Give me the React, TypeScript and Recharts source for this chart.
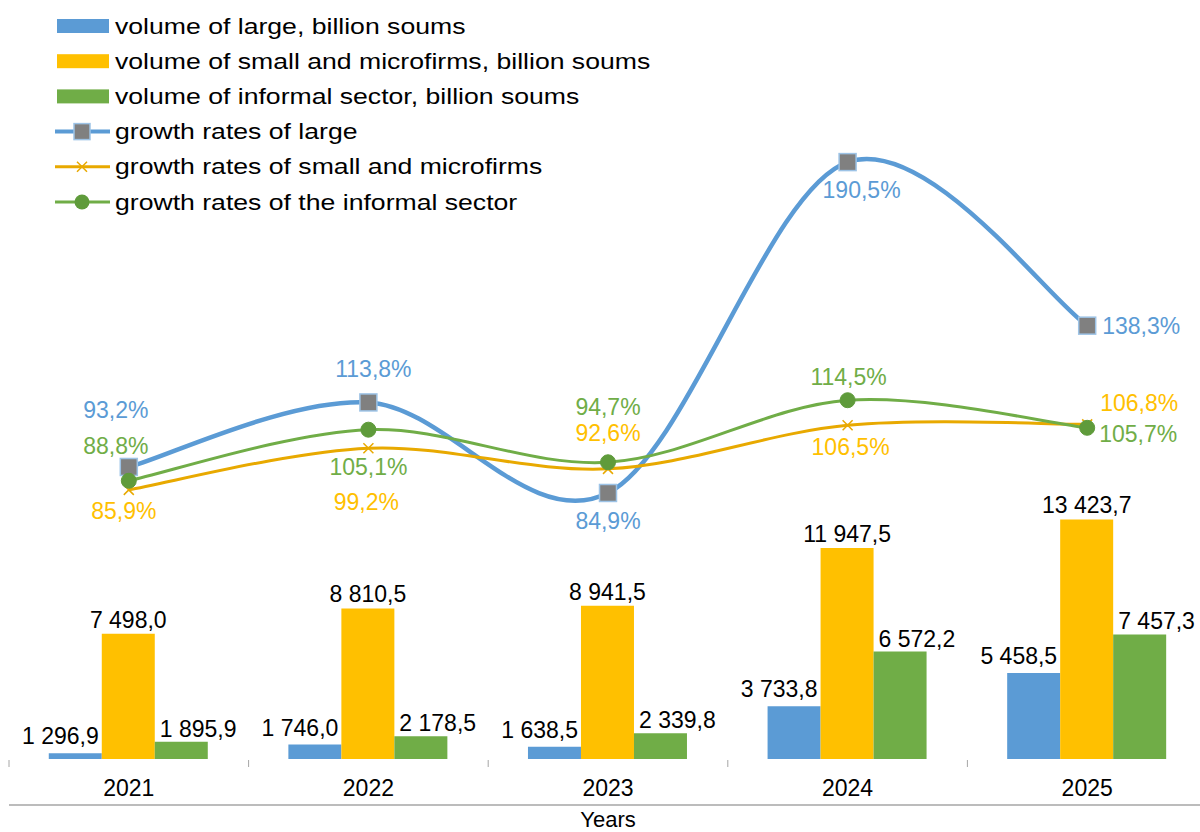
import { Bar, ComposedChart, LabelList, Line, XAxis, YAxis } from "recharts";

const years = ["2021", "2022", "2023", "2024", "2025"];
const largeVolume = [1296.9, 1746.0, 1638.5, 3733.8, 5458.5];
const smallVolume = [7498.0, 8810.5, 8941.5, 11947.5, 13423.7];
const informalVolume = [1895.9, 2178.5, 2339.8, 6572.2, 7457.3];
const largeRate = [93.2, 113.8, 84.9, 190.5, 138.3];
const smallRate = [85.9, 99.2, 92.6, 106.5, 106.8];
const informalRate = [88.8, 105.1, 94.7, 114.5, 105.7];

const data = years.map((year, i) => ({
  year,
  largeVolume: largeVolume[i],
  smallVolume: smallVolume[i],
  informalVolume: informalVolume[i],
  largeRate: largeRate[i],
  smallRate: smallRate[i],
  informalRate: informalRate[i],
}));

// label offsets from the point (text centre), picked by eye from the original
const largeRateOffsets = [[-13, -57], [5, -33], [0, 28], [14, 28], [54, 0]];
const smallRateOffsets = [[-5, 21], [-2, 54], [0, -36], [3, 22], [52, -21]];
const informalRateOffsets = [[-13, -35], [0, 37], [0, -55], [1, -23], [51, 6]];

const BLUE = "#5B9BD5";
const ORANGE = "#FFC000";
const ORANGE_LINE = "#E8A900";
const GREEN = "#70AD47";
const FONT = "'Liberation Sans', Arial, sans-serif";

const fmtVolume = (v: number) => {
  const [int, dec] = v.toFixed(1).split(".");
  return int.replace(/\B(?=(\d{3})+(?!\d))/g, " ") + "," + dec;
};
const fmtRate = (v: number) => v.toFixed(1).replace(".", ",") + "%";

// Excel-like smoothing (Catmull-Rom through the points)
const excelSmooth = (context: any) => {
  let pts: number[][] = [];
  return {
    areaStart() {},
    areaEnd() {},
    lineStart() {
      pts = [];
    },
    point(x: number, y: number) {
      pts.push([+x, +y]);
    },
    lineEnd() {
      if (!pts.length) return;
      context.moveTo(pts[0][0], pts[0][1]);
      for (let i = 0; i < pts.length - 1; i++) {
        const p0 = pts[i - 1] || pts[i];
        const p1 = pts[i];
        const p2 = pts[i + 1];
        const p3 = pts[i + 2] || p2;
        context.bezierCurveTo(
          p1[0] + (p2[0] - p0[0]) / 6,
          p1[1] + (p2[1] - p0[1]) / 6,
          p2[0] - (p3[0] - p1[0]) / 6,
          p2[1] - (p3[1] - p1[1]) / 6,
          p2[0],
          p2[1]
        );
      }
    },
  };
};

const barLabel = (anchor: "start" | "middle" | "end", gap: number) => (props: any) => {
  const { x, y, width, value } = props;
  let tx = x + width / 2;
  if (anchor === "start") tx = x + 5;
  if (anchor === "end") tx = x + width - 3;
  return (
    <text x={tx} y={y - gap} textAnchor={anchor} fontSize={23} fontFamily={FONT} fill="#000">
      {fmtVolume(value)}
    </text>
  );
};

const rateLabel = (color: string, offsets: number[][]) => (props: any) => {
  const { x, y, value, index } = props;
  const [dx, dy] = offsets[index] || [0, -20];
  return (
    <text
      x={x + dx}
      y={y + dy}
      textAnchor="middle"
      dominantBaseline="central"
      fontSize={23}
      fontFamily={FONT}
      fill={color}
    >
      {fmtRate(value)}
    </text>
  );
};

const SquareDot = (props: any) => {
  const { cx, cy, index } = props;
  return (
    <rect key={`sq-${index}`} x={cx - 8.5} y={cy - 8.5} width={17} height={17} fill="#808080" stroke="#9DC3E6" strokeWidth={1.5} />
  );
};
const CrossDot = (props: any) => {
  const { cx, cy, index } = props;
  return (
    <path key={`x-${index}`} d={`M${cx - 5},${cy - 5}L${cx + 5},${cy + 5}M${cx - 5},${cy + 5}L${cx + 5},${cy - 5}`} stroke={ORANGE_LINE} strokeWidth={1.5} />
  );
};
const CircleDot = (props: any) => {
  const { cx, cy, index } = props;
  return <circle key={`c-${index}`} cx={cx} cy={cy} r={7.5} fill="#5F9B3B" stroke="#5F9B3B" strokeWidth={1} />;
};

const YearTick = (props: any) => {
  const { x, y, payload, index, width } = props;
  const half = (width || 1197.5) / years.length / 2;
  return (
    <g>
      <line x1={x - half} x2={x - half} y1={y + 1} y2={y + 8} stroke="#A6A6A6" strokeWidth={1} />
      {index === years.length - 1 && (
        <line x1={x + half} x2={x + half} y1={y + 1} y2={y + 8} stroke="#A6A6A6" strokeWidth={1} />
      )}
      <text x={x} y={y + 37} textAnchor="middle" fontSize={23} fontFamily={FONT} fill="#000">
        {payload.value}
      </text>
    </g>
  );
};

const legendItems = [
  { label: "volume of large, billion soums", kind: "bar", color: BLUE },
  { label: "volume of small and microfirms, billion soums", kind: "bar", color: ORANGE },
  { label: "volume of informal sector, billion soums", kind: "bar", color: GREEN },
  { label: "growth rates of large", kind: "square", color: BLUE },
  { label: "growth rates of small and microfirms", kind: "cross", color: ORANGE_LINE },
  { label: "growth rates of the informal sector", kind: "circle", color: GREEN },
];

const LegendBox = () => (
  <svg width={700} height={225} style={{ position: "absolute", left: 0, top: 0 }}>
    {legendItems.map((item, i) => {
      const cy = 26 + i * 35.2;
      return (
        <g key={item.label}>
          {item.kind === "bar" && <rect x={57} y={cy - 7} width={52} height={14} fill={item.color} />}
          {item.kind !== "bar" && (
            <line x1={55} x2={110} y1={cy} y2={cy} stroke={item.color} strokeWidth={item.kind === "square" ? 4 : 3} />
          )}
          {item.kind === "square" && (
            <rect x={74} y={cy - 8} width={16} height={16} fill="#808080" stroke="#9DC3E6" strokeWidth={1.5} />
          )}
          {item.kind === "cross" && (
            <path d={`M${77},${cy - 5}L${87},${cy + 5}M${77},${cy + 5}L${87},${cy - 5}`} stroke={ORANGE_LINE} strokeWidth={1.5} />
          )}
          {item.kind === "circle" && <circle cx={82} cy={cy} r={7.5} fill="#5F9B3B" />}
          <text
            transform={`translate(115,${cy}) scale(1.21,1)`}
            dominantBaseline="central"
            fontSize={22}
            fontFamily={FONT}
            fill="#000"
          >
            {item.label}
          </text>
        </g>
      );
    })}
  </svg>
);

export default function App() {
  return (
    <div style={{ position: "absolute", left: 0, top: 0, width: 1200, height: 832, overflow: "hidden", background: "#fff" }}>
      <ComposedChart
        width={1220}
        height={832}
        data={data}
        margin={{ top: 7, right: 13, left: 9, bottom: 0 }}
        barCategoryGap="16.6%"
        barGap={0}
      >
        <XAxis dataKey="year" height={46} axisLine={false} tickLine={false} tickSize={0} tickMargin={0} tick={<YearTick />} interval={0} />
        <XAxis
          xAxisId="years"
          dataKey="year"
          height={27}
          tick={false}
          tickLine={false}
          axisLine={{ stroke: "#A6A6A6", strokeWidth: 1.5 }}
          label={{ value: "Years", position: "insideTop", offset: 6, fontSize: 22, fontFamily: FONT, fill: "#000" }}
        />
        <YAxis yAxisId="bars" domain={[1000, 40000]} hide allowDataOverflow />
        <YAxis yAxisId="rates" orientation="right" domain={[0, 240]} hide allowDataOverflow />
        <Bar yAxisId="bars" dataKey="largeVolume" fill={BLUE} isAnimationActive={false}>
          <LabelList dataKey="largeVolume" content={barLabel("end", 9)} />
        </Bar>
        <Bar yAxisId="bars" dataKey="smallVolume" fill={ORANGE} isAnimationActive={false}>
          <LabelList dataKey="smallVolume" content={barLabel("middle", 6)} />
        </Bar>
        <Bar yAxisId="bars" dataKey="informalVolume" fill={GREEN} isAnimationActive={false}>
          <LabelList dataKey="informalVolume" content={barLabel("start", 5)} />
        </Bar>
        <Line
          yAxisId="rates"
          dataKey="largeRate"
          type={excelSmooth as any}
          stroke={BLUE}
          strokeWidth={4.5}
          dot={SquareDot}
          activeDot={false}
          isAnimationActive={false}
        >
          <LabelList dataKey="largeRate" content={rateLabel(BLUE, largeRateOffsets)} />
        </Line>
        <Line
          yAxisId="rates"
          dataKey="smallRate"
          type={excelSmooth as any}
          stroke={ORANGE_LINE}
          strokeWidth={3}
          dot={CrossDot}
          activeDot={false}
          isAnimationActive={false}
        >
          <LabelList dataKey="smallRate" content={rateLabel(ORANGE, smallRateOffsets)} />
        </Line>
        <Line
          yAxisId="rates"
          dataKey="informalRate"
          type={excelSmooth as any}
          stroke={GREEN}
          strokeWidth={3}
          dot={CircleDot}
          activeDot={false}
          isAnimationActive={false}
        >
          <LabelList dataKey="informalRate" content={rateLabel(GREEN, informalRateOffsets)} />
        </Line>
      </ComposedChart>
      <LegendBox />
    </div>
  );
}
